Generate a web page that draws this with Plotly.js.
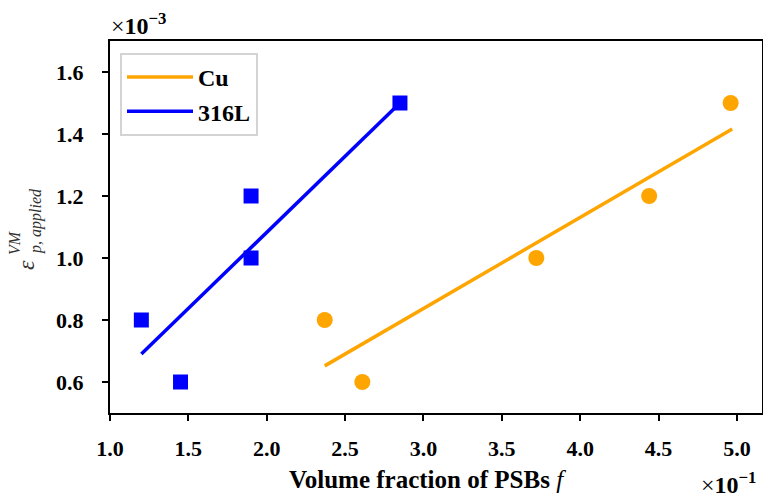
<!DOCTYPE html>
<html>
<head>
<meta charset="utf-8">
<script src="https://cdn.plot.ly/plotly-3.0.1.min.js"></script>
<style>html,body{margin:0;padding:0;background:#fff;}#chart{width:763px;height:499px;}</style>
</head>
<body>
<div id="chart"></div>
<script>
// Data (x in units of 1e-1, y in units of 1e-3)
const cuX = [2.37, 2.61, 3.72, 4.44, 4.96];
const cuY = [0.8, 0.6, 1.0, 1.2, 1.5];
const ssX = [1.2, 1.45, 1.9, 1.9, 2.85];
const ssY = [0.8, 0.6, 1.2, 1.0, 1.5];
const cuFitX = [2.37, 4.97];
const cuFitY = [0.652, 1.416];
const ssFitX = [1.2, 2.85];
const ssFitY = [0.69, 1.50];
const xTicks = [1.0, 1.5, 2.0, 2.5, 3.0, 3.5, 4.0, 4.5, 5.0];
const yTicks = [0.6, 0.8, 1.0, 1.2, 1.4, 1.6];

const ORANGE = '#FFA500', BLUE = '#0000FF';
const serif = 'Liberation Serif, Times New Roman, serif';

const traces = [
  {x: cuFitX, y: cuFitY, mode: 'lines', name: '<b>Cu</b>', line: {color: ORANGE, width: 3.5}, showlegend: true},
  {x: ssFitX, y: ssFitY, mode: 'lines', name: '<b>316L</b>', line: {color: BLUE, width: 3.5}, showlegend: true},
  {x: cuX, y: cuY, mode: 'markers', marker: {color: ORANGE, size: 16, symbol: 'circle'}, showlegend: false},
  {x: ssX, y: ssY, mode: 'markers', marker: {color: BLUE, size: 15, symbol: 'square'}, showlegend: false}
];

const L = 110, R = 1, T = 41, B = 86, W = 763, H = 499;
const pw = W - L - R, ph = H - T - B;
const px = v => (v - L) / pw;
const py = v => (H - B - v) / ph;

const layout = {
  width: W, height: H,
  margin: {l: L, r: R, t: T, b: B, pad: 0},
  paper_bgcolor: '#fff', plot_bgcolor: '#fff',
  font: {family: serif, color: '#000', size: 22},
  showlegend: true,
  legend: {
    x: px(120), y: py(53), xanchor: 'left', yanchor: 'top',
    bordercolor: '#d4d4d4', borderwidth: 2, bgcolor: 'rgba(255,255,255,0.8)',
    font: {family: serif, size: 24, color: '#000'},
    itemwidth: 66, tracegroupgap: 0
  },
  xaxis: {
    range: [1.0, 5.16], tickvals: xTicks, ticktext: xTicks.map(v => '<b>' + v.toFixed(1) + '</b>'),
    showgrid: false, zeroline: false, showline: true, mirror: true,
    linecolor: '#000', linewidth: 2, ticks: 'outside', ticklen: 6, tickwidth: 2, tickcolor: '#000',
    tickfont: {family: serif, size: 22, color: '#000'}, ticklabelstandoff: 9
  },
  yaxis: {
    range: [0.5, 1.7], tickvals: yTicks, ticktext: yTicks.map(v => '<b>' + v.toFixed(1) + '</b>'),
    showgrid: false, zeroline: false, showline: true, mirror: true,
    linecolor: '#000', linewidth: 2, ticks: 'outside', ticklen: 6, tickwidth: 2, tickcolor: '#000',
    tickfont: {family: serif, size: 22, color: '#000'}, ticklabelstandoff: 14
  },
  annotations: [
    {xref: 'paper', yref: 'paper', x: px(427), y: py(479), xanchor: 'center', yanchor: 'middle', showarrow: false,
     text: '<b>Volume fraction of PSBs</b> <i>f</i>', font: {family: serif, size: 25, color: '#000'}},
    {xref: 'paper', yref: 'paper', x: px(109), y: py(41), xanchor: 'left', yanchor: 'bottom', showarrow: false,
     text: '×<b>10<sup>−3</sup></b>', font: {family: serif, size: 24, color: '#000'}},
    {xref: 'paper', yref: 'paper', x: px(699), y: py(500), xanchor: 'left', yanchor: 'bottom', showarrow: false,
     text: '×<b>10<sup>−1</sup></b>', font: {family: serif, size: 24, color: '#000'}},
    {xref: 'paper', yref: 'paper', x: px(26), y: py(265), xanchor: 'center', yanchor: 'middle', showarrow: false,
     textangle: -90, text: '<i>ε</i>', font: {family: serif, size: 24, color: '#333'}},
    {xref: 'paper', yref: 'paper', x: px(14), y: py(243), xanchor: 'center', yanchor: 'middle', showarrow: false,
     textangle: -90, text: '<i>VM</i>', font: {family: serif, size: 16, color: '#333'}},
    {xref: 'paper', yref: 'paper', x: px(36), y: py(221), xanchor: 'center', yanchor: 'middle', showarrow: false,
     textangle: -90, text: '<i>p, applied</i>', font: {family: serif, size: 16, color: '#333'}}
  ]
};

Plotly.newPlot('chart', traces, layout, {displayModeBar: false, staticPlot: true});
</script>
</body>
</html>
